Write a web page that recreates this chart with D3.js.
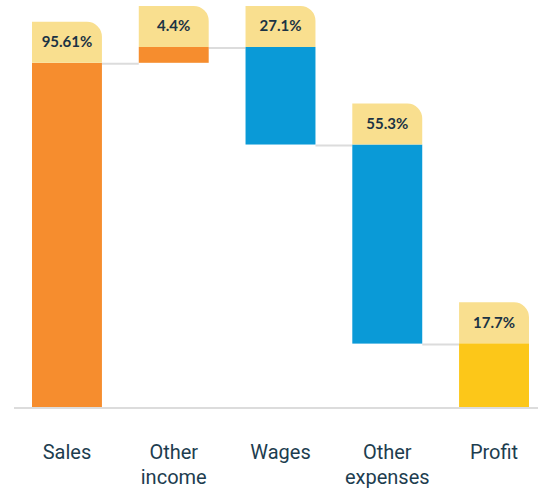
<!DOCTYPE html>
<html>
<head>
<meta charset="utf-8">
<script src="https://cdn.jsdelivr.net/npm/d3@7"></script>
<style>
body { margin: 0; background: #fff; }
</style>
</head>
<body>
<script>
var width = 538, height = 491;

// waterfall data
var categories = ["Sales", "Other income", "Wages", "Other expenses", "Profit"];
var values = [95.61, 4.4, -27.1, -55.3, 17.7];
var labels = ["95.61%", "4.4%", "27.1%", "55.3%", "17.7%"];
var kinds = ["up", "up", "down", "down", "total"];

var colors = { up: "#f68d2e", down: "#0a9ad7", total: "#fcc719" };

// compute start/end of each step
var steps = [];
var run = 0;
values.forEach(function(v, i) {
  var s, e;
  if (kinds[i] == "total") { s = 0; e = v; }
  else { s = run; e = run + v; run = e; }
  steps.push({ cat: categories[i], start: s, end: e, label: labels[i], kind: kinds[i] });
});

var svg = d3.select("body").append("svg")
  .attr("width", width)
  .attr("height", height);

var x = d3.scaleBand()
  .domain(categories)
  .range([32, 529])
  .paddingInner(0.345)
  .paddingOuter(0);

var y = d3.scaleLinear()
  .domain([0, 100])
  .range([407, 47]);

var boxH = 41, r = 15;

// connectors
svg.selectAll("line.conn")
  .data(steps.slice(0, -1))
  .enter().append("line")
  .attr("class", "conn")
  .attr("x1", function(d) { return x(d.cat) + x.bandwidth(); })
  .attr("x2", function(d, i) { return x(categories[i + 1]); })
  .attr("y1", function(d) { return y(d.end) + 1; })
  .attr("y2", function(d) { return y(d.end) + 1; })
  .attr("stroke", "#dcdcdc")
  .attr("stroke-width", 2);

// baseline
svg.append("line")
  .attr("x1", 14).attr("x2", width)
  .attr("y1", 408).attr("y2", 408)
  .attr("stroke", "#dcdcdc")
  .attr("stroke-width", 2);

// bars
svg.selectAll("rect.bar")
  .data(steps)
  .enter().append("rect")
  .attr("class", "bar")
  .attr("x", function(d) { return x(d.cat); })
  .attr("width", x.bandwidth())
  .attr("y", function(d) { return y(Math.max(d.start, d.end)); })
  .attr("height", function(d) { return Math.abs(y(d.start) - y(d.end)); })
  .attr("fill", function(d) { return colors[d.kind]; });

// label boxes, rounded top-right corner
function boxPath(x0, top, w, h) {
  return "M" + x0 + "," + (top + h) +
    "V" + top +
    "H" + (x0 + w - r) +
    "A" + r + "," + r + " 0 0 1 " + (x0 + w) + "," + (top + r) +
    "V" + (top + h) + "Z";
}

var g = svg.selectAll("g.lbl")
  .data(steps)
  .enter().append("g")
  .attr("class", "lbl");

g.append("path")
  .attr("d", function(d) {
    var top = y(Math.max(d.start, d.end));
    return boxPath(x(d.cat), top - boxH, x.bandwidth(), boxH);
  })
  .attr("fill", "#f9df8f");

g.append("text")
  .attr("x", function(d) { return x(d.cat) + x.bandwidth() / 2; })
  .attr("y", function(d) { return y(Math.max(d.start, d.end)) - boxH / 2 + 5; })
  .attr("text-anchor", "middle")
  .attr("font-family", "Lato, sans-serif")
  .attr("font-weight", "bold")
  .attr("font-size", 15)
  .attr("fill", "#1b3344")
  .text(function(d) { return d.label; });

// category labels
svg.selectAll("text.cat")
  .data(categories)
  .enter().append("text")
  .attr("class", "cat")
  .attr("text-anchor", "middle")
  .attr("font-family", "Roboto, sans-serif")
  .attr("font-size", 20)
  .attr("fill", "#1d3d4f")
  .each(function(d) {
    var words = d.split(" ");
    var t = d3.select(this);
    words.forEach(function(w, i) {
      t.append("tspan")
        .attr("x", x(d) + x.bandwidth() / 2)
        .attr("y", 459 + i * 25)
        .text(w);
    });
  });
</script>
</body>
</html>
